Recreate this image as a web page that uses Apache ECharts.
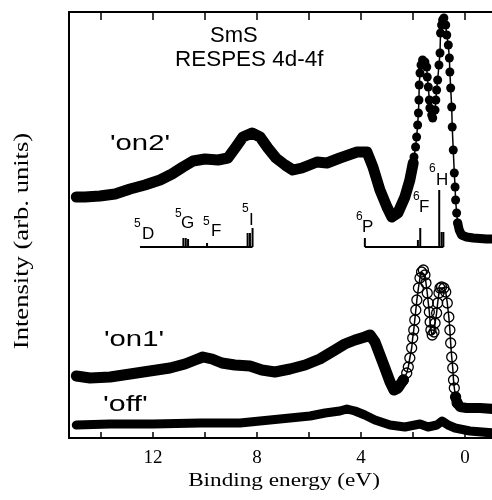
<!DOCTYPE html>
<html>
<head>
<meta charset="utf-8">
<style>html,body{margin:0;padding:0;background:#fff;}#c{width:492px;height:500px;}</style>
<script src="https://cdn.jsdelivr.net/npm/echarts@6/dist/echarts.min.js"></script>
</head>
<body>
<div id="c"></div>
<script>
// ---- data (binding energy in eV, intensity in arbitrary units) ----
const on2DenseE = [14.95, 14.62, 14.04, 13.46, 12.88, 12.31, 11.73, 11.27, 10.85, 10.46, 10.0, 9.5, 9.12, 8.81, 8.54, 8.19, 7.88, 7.58, 7.27, 6.92, 6.62, 6.27, 5.69, 5.31, 4.81, 4.15, 3.77, 3.54, 3.27, 3.0, 2.81, 2.58, 2.31, 2.12, 1.99];
const on2DenseI = [241, 241, 242, 244, 249, 253, 258, 264, 271, 277, 279, 278, 280, 291, 301, 305, 301, 290, 280, 273, 268, 270, 276, 275, 280, 286, 286, 271, 248, 231, 221, 225, 241, 258, 275];
const on2PeakE = [1.99, 1.96, 1.90, 1.86, 1.82, 1.79, 1.77, 1.76, 1.73, 1.69, 1.63, 1.54, 1.47, 1.45, 1.41, 1.37, 1.35, 1.28, 1.24, 1.15, 1.12, 1.09, 1.05, 1.00, 0.96, 0.94, 0.90, 0.86, 0.81, 0.74, 0.70, 0.64, 0.60, 0.58, 0.55, 0.51, 0.49, 0.45, 0.41, 0.38, 0.36, 0.32, 0.28];
const on2PeakI = [275, 281, 291, 301, 313, 325, 338, 353, 365, 373, 378, 376, 371, 361, 351, 338, 330, 323, 320, 328, 338, 348, 358, 373, 385, 405, 413, 418, 420, 413, 403, 393, 380, 366, 350, 331, 311, 288, 265, 251, 238, 225, 215];
const on2TailE = [0.28, 0.22, 0.13, -0.06, -0.32, -0.83, -1.1];
const on2TailI = [215, 208, 203, 201, 200, 199, 199];

const on1DenseE = [14.95, 14.42, 13.65, 12.88, 12.12, 11.35, 10.77, 10.38, 10.08, 9.73, 9.35, 8.85, 8.27, 7.81, 7.31, 6.73, 6.15, 5.58, 5.0, 4.62, 4.23, 3.85, 3.65, 3.46, 3.27, 3.08, 2.88, 2.73, 2.58, 2.37];
const on1DenseI = [62, 60, 61, 64, 67, 70, 74, 78, 81, 79, 75, 73, 72, 68, 66, 69, 73, 79, 88, 94, 98, 101, 103, 96, 83, 70, 56, 48, 50, 58];
const on1PeakE = [2.37, 2.24, 2.18, 2.12, 2.05, 2.01, 1.97, 1.93, 1.89, 1.85, 1.79, 1.73, 1.67, 1.60, 1.54, 1.50, 1.45, 1.41, 1.37, 1.34, 1.31, 1.26, 1.19, 1.15, 1.09, 1.05, 1.00, 0.96, 0.90, 0.81, 0.74, 0.68, 0.62, 0.58, 0.55, 0.51, 0.47, 0.44, 0.41, 0.36, 0.30];
const on1PeakI = [58, 65, 71, 80, 90, 100, 108, 118, 128, 138, 150, 160, 166, 168, 163, 155, 145, 135, 126, 116, 108, 103, 106, 115, 125, 135, 145, 150, 151, 150, 146, 135, 121, 108, 95, 81, 70, 58, 50, 41, 35];
const on1TailE = [0.36, 0.30, 0.19, -0.06, -0.58, -1.1];
const on1TailI = [41, 35, 31, 30, 30, 29];

const offE = [14.95, 13.65, 12.0, 10.19, 8.65, 7.5, 6.73, 5.96, 5.38, 4.81, 4.54, 4.23, 3.85, 3.46, 2.88, 2.31, 1.73, 1.42, 1.08, 0.88, 0.65, 0.38, -0.19, -1.1];
const offI = [13, 14, 14, 15, 15, 18, 20, 22, 25, 27, 29, 27, 23, 18, 13, 11, 14, 11, 13, 17, 13, 10, 7, 5];

// multiplet stick spectrum (final-state terms)
const stickE = [10.83, 10.74, 10.65, 9.92, 8.36, 8.27, 8.17, 3.85, 1.81, 1.72, 0.99, 0.90, 0.83];
const stickTop = [200, 200, 199, 195, 205, 205, 210, 200, 198, 210, 248, 206, 206];
const stickBase = 191;
const stickGroupStart = [12.5, 3.85];
const stickGroupEnd = [8.17, 0.83];

const tickLabelValues = [0, 4, 8, 12];
const tickValues = [0, 2, 4, 6, 8, 10, 12, 14];
const xMin = -1.04, xMax = 15.23;
const yMin = 0, yMax = 426;

const zip = (a, b) => a.map((v, i) => [v, b[i]]);

const chart = echarts.init(document.getElementById('c'), null, {renderer: 'canvas'});

const sans = '"Liberation Sans", Arial, sans-serif';
const serif = '"Liberation Serif", "Times New Roman", serif';

function txt(x, y, s, size, opts) {
  opts = opts || {};
  return {
    type: 'text', x: x, y: y, scaleX: opts.sx || 1, rotation: opts.rot || 0, silent: true,
    style: {
      text: s, x: 0, y: 0, fill: '#000',
      font: (size) + 'px ' + (opts.font || sans),
      textAlign: opts.align || 'left', textVerticalAlign: 'middle'
    }
  };
}

const graphics = [
  txt(210, 35.5, 'SmS', 22),
  txt(175, 60, 'RESPES 4d-4f', 22, {sx: 1.02}),
  txt(110, 144, "'on2'", 22, {sx: 1.33}),
  txt(104, 340, "'on1'", 22, {sx: 1.33}),
  txt(103, 405, "'off'", 22, {sx: 1.38}),
  // stick labels
  txt(134, 224, '5', 12), txt(142, 234.5, 'D', 17),
  txt(175, 214, '5', 12), txt(181, 223.5, 'G', 17),
  txt(203, 222, '5', 12), txt(211, 231.5, 'F', 17),
  txt(242, 209, '5', 12), txt(249, 220, 'I', 17),
  txt(356, 217, '6', 12), txt(362, 227.5, 'P', 17),
  txt(413, 197, '6', 12), txt(419, 207.5, 'F', 17),
  txt(429, 169, '6', 12), txt(436, 180, 'H', 17),
  // axis names
  txt(284, 481, 'Binding energy (eV)', 18, {font: serif, align: 'center', sx: 1.29}),
  txt(23, 241, 'Intensity (arb. units)', 20, {font: serif, align: 'center', sx: 1.33, rot: Math.PI / 2})
];

const option = {
  animation: false,
  backgroundColor: '#fff',
  grid: {left: 69, right: 0, top: 12, bottom: 62, containLabel: false, outerBoundsMode: 'none'},
  xAxis: [{
    type: 'value', min: xMin, max: xMax, inverse: true, position: 'bottom',
    axisLine: {show: true, onZero: false, lineStyle: {color: '#000', width: 2}},
    axisTick: {show: true, inside: true, length: 6, customValues: tickValues, lineStyle: {color: '#000', width: 1.5}},
    axisLabel: {show: true, customValues: tickLabelValues, margin: 11, color: '#000', fontFamily: serif, fontSize: 19},
    splitLine: {show: false}
  }, {
    type: 'value', min: xMin, max: xMax, inverse: true, position: 'top',
    axisLine: {show: true, onZero: false, lineStyle: {color: '#000', width: 2}},
    axisTick: {show: true, inside: true, length: 8, customValues: tickValues, lineStyle: {color: '#000', width: 1.5}},
    axisLabel: {show: false},
    splitLine: {show: false}
  }],
  yAxis: {
    type: 'value', min: yMin, max: yMax,
    axisLine: {show: true, onZero: false, lineStyle: {color: '#000', width: 2}},
    axisTick: {show: false}, axisLabel: {show: false}, splitLine: {show: false}
  },
  graphic: graphics,
  series: [
    {name: 'off', type: 'line', data: zip(offE, offI), showSymbol: false, symbol: 'none',
     lineStyle: {color: '#000', width: 9, cap: 'round', join: 'round'}},
    {name: 'on1 band', type: 'line', data: zip(on1DenseE, on1DenseI), symbol: 'none',
     lineStyle: {color: '#000', width: 11, cap: 'round', join: 'round'}},
    {name: 'on1 tail', type: 'line', data: zip(on1TailE, on1TailI), symbol: 'none',
     lineStyle: {color: '#000', width: 10, cap: 'round', join: 'round'}},
    {name: 'on1', type: 'line', data: zip(on1PeakE, on1PeakI), symbol: 'circle', symbolSize: 10,
     itemStyle: {color: 'rgba(255,255,255,0)', borderColor: '#000', borderWidth: 1.3},
     lineStyle: {color: '#000', width: 1.5}},
    {name: 'on2 band', type: 'line', data: zip(on2DenseE, on2DenseI), symbol: 'none',
     lineStyle: {color: '#000', width: 11, cap: 'round', join: 'round'}},
    {name: 'on2 tail', type: 'line', data: zip(on2TailE, on2TailI), symbol: 'none',
     lineStyle: {color: '#000', width: 9, cap: 'round', join: 'round'}},
    {name: 'on2', type: 'line', data: zip(on2PeakE, on2PeakI), symbol: 'circle', symbolSize: 9,
     itemStyle: {color: '#000', borderWidth: 0}, lineStyle: {color: '#000', width: 1.5}},
    {name: 'stick base', type: 'custom', data: zip(stickGroupStart, stickGroupEnd),
     renderItem: function (params, api) {
       const p1 = api.coord([api.value(0), stickBase]);
       const p2 = api.coord([api.value(1), stickBase]);
       return {type: 'line', shape: {x1: p1[0], y1: p1[1], x2: p2[0], y2: p2[1]},
               style: {stroke: '#000', lineWidth: 2}};
     }},
    {name: 'sticks', type: 'custom', data: zip(stickE, stickTop),
     renderItem: function (params, api) {
       const p1 = api.coord([api.value(0), stickBase]);
       const p2 = api.coord([api.value(0), api.value(1)]);
       return {type: 'line', shape: {x1: p1[0], y1: p1[1], x2: p2[0], y2: p2[1]},
               style: {stroke: '#000', lineWidth: 2}};
     }}
  ]
};
chart.setOption(option);
</script>
</body>
</html>
